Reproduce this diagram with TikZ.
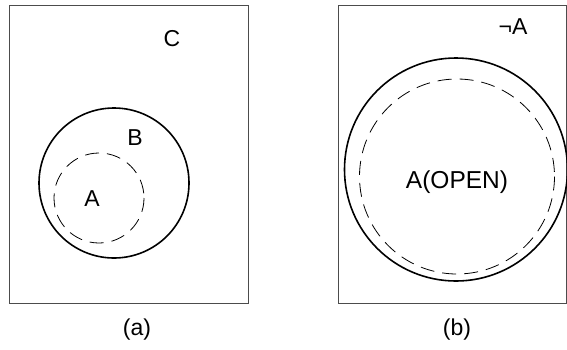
\documentclass[tikz,border=0pt]{standalone}
\usepackage{fontspec}
\setmainfont{Liberation Sans}
\begin{document}
\begin{tikzpicture}[
    x=1pt,
    y=-1pt,
    frame/.style={draw=black!70, line width=0.9pt},
    setline/.style={draw=black, line width=1.6pt},
    openline/.style={draw=black, line width=0.8pt, dash pattern=on 14pt off 8pt},
    lbl/.style={font=\fontsize{23}{23}\selectfont, inner sep=0pt}
]
\useasboundingbox (0,0) rectangle (567,349);

\draw[frame] (9,5) rectangle (248,303);
\draw[setline] (114,183) circle (75);
\draw[openline] (99,198) circle (45);
\node[lbl] (labC) at (172,39) {C};
\node[lbl] (labB) at (135,138) {B};
\node[lbl] (labA) at (92,199) {A};
\node[lbl] (capa) at (137,330) {(a)};

\draw[frame] (338,5) rectangle (566.5,303);
\draw[setline] (456,169.5) circle (111.5);
\draw[openline] (457,176.5) circle (97.5);
\node[lbl, font=\fontsize{24.5}{24.5}\selectfont] (labOpen) at (457,182) {A(OPEN)};
\node[lbl] (labNotA) at (513,27) {¬A};
\node[lbl] (capb) at (457,330) {(b)};

\end{tikzpicture}
\end{document}
